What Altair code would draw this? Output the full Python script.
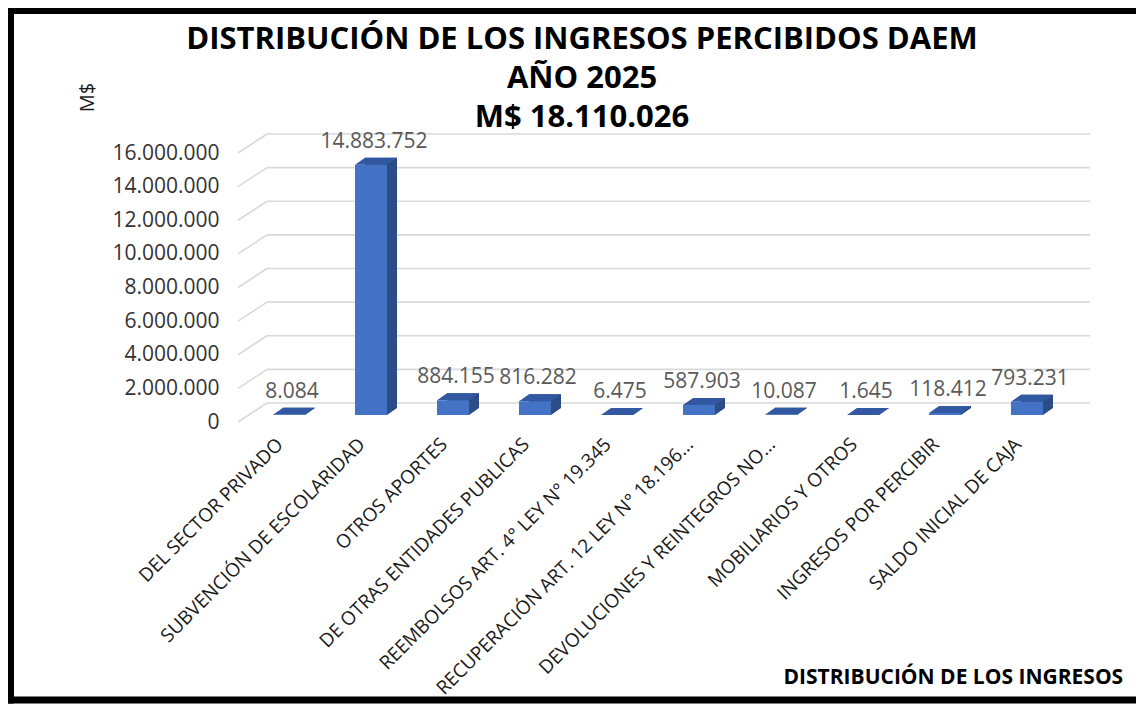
import altair as alt
import pandas as pd

categories = [
    "DEL SECTOR PRIVADO",
    "SUBVENCIÓN DE ESCOLARIDAD",
    "OTROS APORTES",
    "DE OTRAS ENTIDADES PUBLICAS",
    "REEMBOLSOS ART. 4° LEY N° 19.345",
    "RECUPERACIÓN ART. 12 LEY N° 18.196...",
    "DEVOLUCIONES Y REINTEGROS NO...",
    "MOBILIARIOS Y OTROS",
    "INGRESOS POR PERCIBIR",
    "SALDO INICIAL DE CAJA",
]
values = [8084, 14883752, 884155, 816282, 6475, 587903, 10087, 1645, 118412, 793231]
y_ticks = [0, 2000000, 4000000, 6000000, 8000000, 10000000, 12000000, 14000000, 16000000]
title_lines = ["DISTRIBUCIÓN DE LOS INGRESOS PERCIBIDOS DAEM", "AÑO 2025", "M$ 18.110.026"]
y_title = "M$"
x_title = "DISTRIBUCIÓN DE LOS INGRESOS"

value_labels = [f"{v:,}".replace(",", ".") for v in values]
df = pd.DataFrame({"cat": categories, "val": values, "lab": value_labels})
grid_df = pd.DataFrame({"t": y_ticks})
frame_df = pd.DataFrame({"k": [0]})

FONT = "Open Sans"
FRONT = "#4472C4"
SIDE = "#2B4C87"
TOP = "#3158A0"
GRID = "#d9d9d9"

# 3D column faces (unit-pixel paths, symbol size 4 -> scale 1)
TOP_FACE = "M-16,0L16,0L26,-7L-6,-7Z"
SIDE_FOOT = "M16,0L26,-7L16,-7Z"

yscale = alt.Scale(domain=[0, 16000000], nice=False, zero=True)
xscale = alt.Scale(domain=categories, paddingInner=0, paddingOuter=0.183, align=0.267)

x_axis = alt.Axis(
    title=x_title, labelAngle=315, labelAlign="right", labelBaseline="middle",
    labelPadding=26, labelOffset=-9, labelFont=FONT, labelFontSize=19, labelColor="#1a1a1a",
    labelLimit=400, domain=False, ticks=False, grid=False,
    titleFont=FONT, titleFontSize=21, titleFontWeight="bold", titleColor="black",
    titleX=543, titleY=262, titleAlign="left", titleBaseline="middle", titleAnchor="start",
)
y_axis = alt.Axis(
    title=y_title, values=y_ticks, grid=False, domain=False, ticks=False,
    labelExpr="replace(format(datum.value, ',d'), regexp(',', 'g'), '.')",
    labelFont=FONT, labelFontSize=21, labelColor="#333333", labelPadding=21,
    labelOffset=7,
    titleFont=FONT, titleFontSize=20, titleFontWeight="normal", titleColor="#1a1a1a",
    titleAngle=270, titleX=-153, titleY=-49, titleAlign="center", titleBaseline="middle",
)

x_enc = alt.X("cat:N", scale=xscale, sort=categories, axis=x_axis)
y_enc = alt.Y("val:Q", scale=yscale, axis=y_axis)

# outer black frame (top, left, bottom edges; right edge lies outside the picture)
frame_top = alt.Chart(frame_df).mark_rule(color="black", strokeWidth=7).encode(
    x=alt.value(-233), x2=alt.value(896), y=alt.value(-135.5)
)
frame_left = alt.Chart(frame_df).mark_rule(color="black", strokeWidth=7).encode(
    x=alt.value(-229.5), y=alt.value(-139), y2=alt.value(557.5)
)
frame_bottom = alt.Chart(frame_df).mark_rule(color="black", strokeWidth=7).encode(
    x=alt.value(-233), x2=alt.value(896), y=alt.value(554)
)

grid_slant = alt.Chart(grid_df).mark_rule(color=GRID, strokeWidth=1.6, yOffset=7, y2Offset=-12).encode(
    y=alt.Y("t:Q", scale=yscale, axis=y_axis), y2=alt.Y2("t"),
    x=alt.value(-2), x2=alt.value(27),
)
grid_back = alt.Chart(grid_df).mark_rule(color=GRID, strokeWidth=1.6, yOffset=-12).encode(
    y=alt.Y("t:Q", scale=yscale, axis=y_axis),
    x=alt.value(27), x2=alt.value(850),
)

side_bar = alt.Chart(df).mark_bar(size=32, color=SIDE, xOffset=10, yOffset=-7).encode(
    x=x_enc, y=y_enc,
)
side_foot = alt.Chart(df).mark_point(shape=SIDE_FOOT, size=4, filled=True, color=SIDE, opacity=1, strokeWidth=0).encode(
    x=x_enc, y=alt.Y(datum=0, scale=yscale, axis=y_axis),
)
top_face = alt.Chart(df).mark_point(shape=TOP_FACE, size=4, filled=True, color=TOP, opacity=1, strokeWidth=0).encode(
    x=x_enc, y=y_enc,
)
front_bar = alt.Chart(df).mark_bar(size=32, color=FRONT).encode(
    x=x_enc, y=y_enc,
)
labels = alt.Chart(df).mark_text(dy=-23, dx=3, font=FONT, fontSize=21, color="#595959", baseline="middle").encode(
    x=x_enc, y=y_enc, text="lab:N",
)

chart = alt.layer(
    frame_top, frame_left, frame_bottom, grid_slant, grid_back,
    side_bar, side_foot, top_face, front_bar, labels,
).properties(
    width=850, height=269,
    padding={"left": 232, "top": 138, "right": 46, "bottom": 289},
    autosize=alt.AutoSizeParams(type="none"),
    title=alt.TitleParams(
        text=title_lines, font=FONT, fontSize=31, fontWeight="bold", color="black",
        anchor="middle", frame="group", offset=0, dx=-83, dy=161, lineHeight=39,
        baseline="bottom",
    ),
    background="white",
).configure_view(stroke=None)

chart.save("out.html", embed_options={"renderer": "svg", "actions": False})
